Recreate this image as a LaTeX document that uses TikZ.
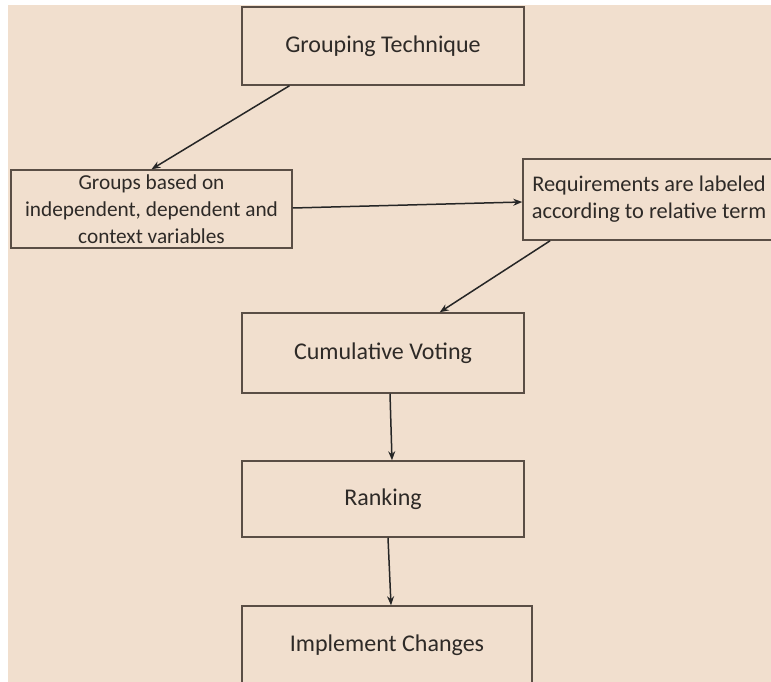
\documentclass[tikz,border=0pt]{standalone}
\usepackage{fontspec}
\setmainfont{Carlito}
\usetikzlibrary{arrows.meta,calc}
\definecolor{bg}{HTML}{F1DFCE}
\definecolor{edge}{HTML}{5A4E45}
\definecolor{txt}{HTML}{2E2A27}
\tikzset{
  box/.style={draw=edge,line width=1.5pt,fill=bg,rectangle,inner sep=0pt,align=center,text=txt},
  bigtext/.style={font=\fontsize{24}{28}\selectfont},
  smalltext/.style={font=\fontsize{21.3}{27}\selectfont},
  reqtext/.style={font=\fontsize{22.4}{27}\selectfont},
  arr/.style={draw=black!85,line width=1.5pt,-{Stealth[length=9pt,width=7pt]}}
}
\begin{document}
\begin{tikzpicture}[x=1pt,y=-1pt]
\useasboundingbox (0,0) rectangle (771,682);
\fill[white] (0,0) rectangle (771,682);
\fill[bg] (8,5) rectangle (771,682);
\node[box,bigtext,minimum width=282pt,minimum height=78pt] (top) at (383,46) {Grouping Technique};
\node[box,smalltext,minimum width=281pt,minimum height=78pt] (grp) at (151.5,209) {Groups based on\\independent, dependent and\\context variables};
\node[box,reqtext,minimum width=252pt,minimum height=81pt] (req) at (649,199.5) {Requirements are labeled\\according to relative term};
\node[box,bigtext,minimum width=282pt,minimum height=80pt] (cum) at (383,353) {Cumulative Voting};
\node[box,bigtext,minimum width=282pt,minimum height=76pt] (rank) at (383,499) {Ranking};
\node[box,bigtext,minimum width=290pt,minimum height=78pt] (impl) at (387,645) {Implement Changes};
\coordinate (a1) at ($(top.south west)!0.17!(top.south east)$);
\coordinate (a3) at ($(req.south west)!0.11!(req.south east)$);
\coordinate (a4) at ($(cum.north west)!0.70!(cum.north east)$);
\coordinate (a5) at ($(cum.south)+(7,0)$);
\coordinate (a6) at ($(rank.north)+(9,0)$);
\coordinate (a7) at ($(rank.south)+(5,0)$);
\coordinate (a8) at ($(impl.north)+(4,0)$);
\coordinate (a9) at ($(grp.east)+(0,-1)$);
\coordinate (a10) at ($(req.west)+(0,2.5)$);
\draw[arr] (a1) -- (grp.north);
\draw[arr] (a9) -- (a10);
\draw[arr] (a3) -- (a4);
\draw[arr] (a5) -- (a6);
\draw[arr] (a7) -- (a8);
\end{tikzpicture}
\end{document}
